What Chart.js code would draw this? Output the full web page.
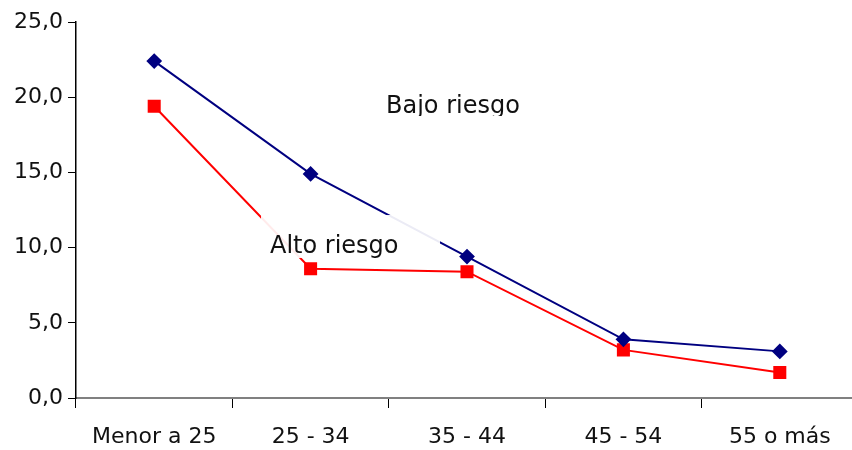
<!DOCTYPE html>
<html>
<head>
<meta charset="utf-8">
<script src="https://cdn.jsdelivr.net/npm/chart.js@4"></script>
<style>
  html, body { margin: 0; padding: 0; background: #fff; }
  #wrap { width: 852px; height: 450px; }
</style>
</head>
<body>
<div id="wrap"><canvas id="c" width="852" height="450"></canvas></div>
<script>
// Age groups and rates per risk group
const categories = ['Menor a 25', '25 - 34', '35 - 44', '45 - 54', '55 o más'];
const bajoRiesgo = [22.4, 14.9, 9.4, 3.9, 3.1];
const altoRiesgo = [19.4, 8.6, 8.4, 3.2, 1.7];
const yTicks = [0, 5, 10, 15, 20, 25];

const FONT = '"DejaVu Sans", sans-serif';

// In-plot series labels drawn on white boxes that mask the lines beneath
const seriesLabels = [
  { text: 'Bajo riesgo', box: [380, 86, 530, 116], x: 386, y: 113 },
  { text: 'Alto riesgo', box: [261, 215, 440, 258], x: 270, y: 253 }
];

const labelPlugin = {
  id: 'seriesLabels',
  afterDatasetsDraw(chart) {
    const ctx = chart.ctx;
    seriesLabels.forEach(l => {
      const [x0, y0, x1, y1] = l.box;
      ctx.save();
      ctx.fillStyle = 'rgba(255,255,255,0.92)';
      ctx.fillRect(x0, y0, x1 - x0, y1 - y0);
      ctx.beginPath();
      ctx.rect(x0, y0, x1 - x0, y1 - y0);
      ctx.clip();
      ctx.fillStyle = '#111';
      ctx.font = '24px ' + FONT;
      ctx.textBaseline = 'alphabetic';
      ctx.textAlign = 'left';
      ctx.fillText(l.text, l.x, l.y);
      ctx.restore();
    });
  }
};

// The category axis runs a little past the right edge of the canvas
const widenX = {
  id: 'widenX',
  afterLayout(chart) {
    const s = chart.scales.x;
    s.right = 858;
    s.width = s.right - s.left;
    s.configure();
  }
};

new Chart(document.getElementById('c'), {
  type: 'line',
  data: {
    labels: categories,
    datasets: [
      {
        label: 'Bajo riesgo',
        data: bajoRiesgo,
        borderColor: '#000080',
        backgroundColor: '#000080',
        borderWidth: 2,
        pointStyle: 'rectRot',
        pointRadius: 6.5,
        pointHoverRadius: 6.5,
        tension: 0
      },
      {
        label: 'Alto riesgo',
        data: altoRiesgo,
        borderColor: '#ff0000',
        backgroundColor: '#ff0000',
        borderWidth: 2,
        pointStyle: 'rect',
        pointRadius: 7.8,
        pointHoverRadius: 7.8,
        tension: 0
      }
    ]
  },
  options: {
    responsive: false,
    animation: false,
    clip: false,
    layout: { padding: { top: 22, right: 0, left: 0, bottom: 0 } },
    plugins: {
      legend: { display: false },
      tooltip: { enabled: false }
    },
    scales: {
      x: {
        offset: true,
        afterFit(scale) { scale.height = 52; },
        grid: {
          offset: true,
          drawOnChartArea: false,
          drawTicks: true,
          tickLength: 10,
          color: '#000'
        },
        border: { display: true, color: '#808080', width: 2 },
        ticks: {
          color: '#111',
          padding: 16,
          maxRotation: 0,
          autoSkip: false,
          font: { family: FONT, size: 22 }
        }
      },
      y: {
        min: 0,
        max: 25,
        afterFit(scale) { scale.width = 76; },
        afterBuildTicks(scale) { scale.ticks = yTicks.map(v => ({ value: v })); },
        grid: {
          drawOnChartArea: false,
          drawTicks: true,
          tickLength: 8,
          color: '#000'
        },
        border: { display: true, color: '#000', width: 1.5 },
        ticks: {
          color: '#111',
          padding: 5,
          font: { family: FONT, size: 22 },
          callback: v => v.toFixed(1).replace('.', ',')
        }
      }
    }
  },
  plugins: [widenX, labelPlugin]
});
</script>
</body>
</html>
